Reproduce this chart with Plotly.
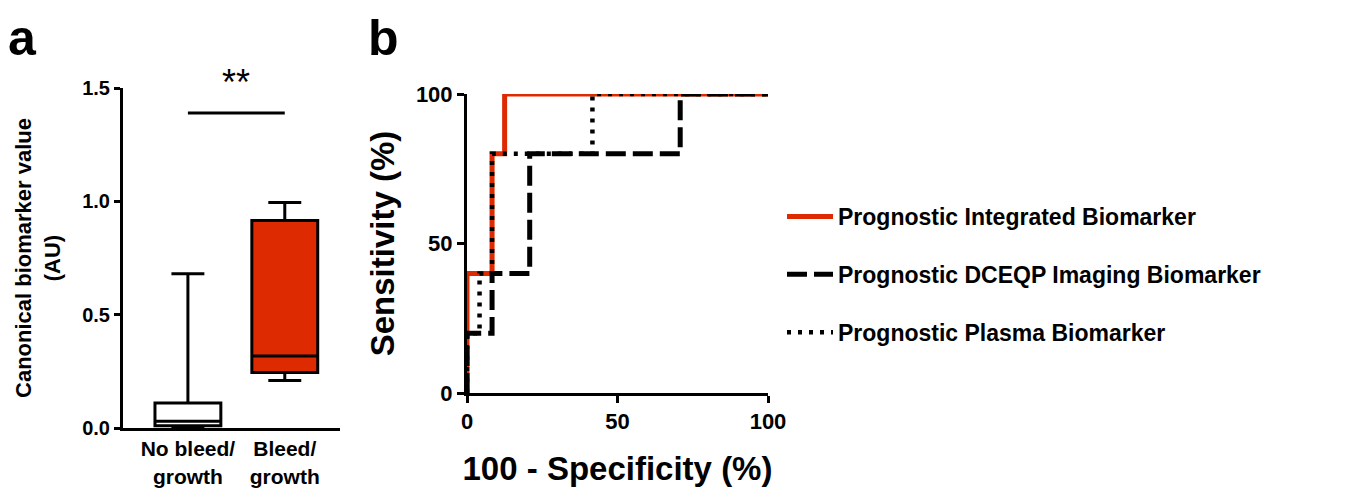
import plotly.graph_objects as go

W, H = 1371, 498
OFF = 8  # page body margin of the exported html

# ---------------- Panel a data ----------------
groups = ["No bleed/ growth", "Bleed/ growth"]
group_labels = ["No bleed/<br>growth", "Bleed/<br>growth"]
q1_vals = [0.01, 0.245]
median_vals = [0.03, 0.318]
q3_vals = [0.11, 0.915]
lower_vals = [0.0, 0.21]
upper_vals = [0.68, 0.995]
box_fills = ["white", "#DD2A00"]
sig_y = 1.39
sig_text = "**"

# ---------------- Panel b data (ROC) ----------------
roc_names = ["Prognostic Integrated Biomarker",
             "Prognostic DCEQP Imaging Biomarker",
             "Prognostic Plasma Biomarker"]
integ_fpr = [0, 0, 0, 8.33, 8.33, 12.5, 12.5, 100]
integ_tpr = [0, 20, 40, 40, 80, 80, 100, 100]
dceqp_fpr = [0, 0, 8.33, 8.33, 20.83, 20.83, 70.83, 70.83, 100]
dceqp_tpr = [0, 20, 20, 40, 40, 80, 80, 100, 100]
plasma_fpr = [0, 0, 4.17, 4.17, 8.33, 8.33, 41.67, 41.67, 100]
plasma_tpr = [0, 20, 20, 40, 40, 80, 80, 100, 100]

FONT = "Liberation Sans, Arial, Helvetica, sans-serif"
RED = "#DD2A00"

def px_x(p):
    return (p - OFF) / W

def px_y(p):
    return 1 - (p - OFF) / H

fig = go.Figure()

for i, g in enumerate(groups):
    fig.add_trace(go.Box(
        x=[g], q1=[q1_vals[i]], median=[median_vals[i]], q3=[q3_vals[i]],
        lowerfence=[lower_vals[i]], upperfence=[upper_vals[i]],
        fillcolor=box_fills[i], line=dict(color="black", width=3),
        whiskerwidth=0.5, width=0.68, boxpoints=False,
        xaxis="x", yaxis="y", showlegend=False, hoverinfo="skip"))

roc_x = [integ_fpr, dceqp_fpr, plasma_fpr]
roc_y = [integ_tpr, dceqp_tpr, plasma_tpr]
roc_lines = [dict(color=RED, width=5),
             dict(color="black", width=5, dash="20px,7px"),
             dict(color="black", width=4.5, dash="4px,7px")]
for i in range(3):
    fig.add_trace(go.Scatter(
        x=roc_x[i], y=roc_y[i], mode="lines", name=roc_names[i],
        line=roc_lines[i], xaxis="x2", yaxis="y2",
        legendgroup=f"g{i}", hoverinfo="skip"))

fig.update_layout(
    width=W, height=H,
    margin=dict(l=0, r=0, t=0, b=0, autoexpand=False),
    paper_bgcolor="white", plot_bgcolor="white",
    boxmode="overlay",
    font=dict(family=FONT, color="black"),
    xaxis=dict(domain=[px_x(123), px_x(340)], range=[-0.67, 1.57],
               showline=True, linewidth=3, linecolor="black", automargin=False,
               ticks="", tickvals=groups, ticktext=group_labels,
               tickfont=dict(family=FONT, size=21, color="black", weight="bold"),
               showgrid=False, zeroline=False, fixedrange=True),
    yaxis=dict(domain=[px_y(428), px_y(88)], range=[0, 1.5], automargin=False,
               tickvals=[0, 0.5, 1.0, 1.5], ticktext=["0.0", "0.5", "1.0", "1.5"],
               showline=True, linewidth=3, linecolor="black",
               ticks="outside", ticklen=6, tickwidth=3, tickcolor="black",
               tickfont=dict(family=FONT, size=20, color="black", weight="bold"),
               title=dict(text="Canonical biomarker value<br>(AU)",
                          font=dict(family=FONT, size=22, color="black", weight="bold"),
                          standoff=16),
               showgrid=False, zeroline=False),
    xaxis2=dict(domain=[px_x(467), px_x(768)], range=[0, 100], anchor="y2",
                automargin=False,
                tickvals=[0, 50, 100], showline=True, linewidth=3, linecolor="black",
                ticks="outside", ticklen=7, tickwidth=3, tickcolor="black",
                tickfont=dict(family=FONT, size=22, color="black", weight="bold"),
                title=dict(text="100 - Specificity (%)",
                           font=dict(family=FONT, size=33, color="black", weight="bold"),
                           standoff=24),
                showgrid=False, zeroline=False, layer="below traces"),
    yaxis2=dict(domain=[px_y(393), px_y(94)], range=[0, 100], anchor="x2",
                automargin=False,
                tickvals=[0, 50, 100], showline=True, linewidth=3, linecolor="black",
                ticks="outside", ticklen=7, tickwidth=3, tickcolor="black",
                tickfont=dict(family=FONT, size=22, color="black", weight="bold"),
                title=dict(text="Sensitivity (%)",
                           font=dict(family=FONT, size=33, color="black", weight="bold"),
                           standoff=12),
                showgrid=False, zeroline=False, layer="below traces"),
    legend=dict(x=px_x(782), y=px_y(195), xanchor="left", yanchor="top",
                font=dict(family=FONT, size=23, color="black", weight="bold"),
                tracegroupgap=25, itemwidth=46, bgcolor="rgba(0,0,0,0)"),
    shapes=[dict(type="line", xref="x", yref="y", x0=0, x1=1, y0=sig_y, y1=sig_y,
                 line=dict(color="black", width=3))],
    annotations=[
        dict(text=sig_text, xref="x", yref="y", x=0.5, y=sig_y + 0.035,
             yanchor="bottom", showarrow=False,
             font=dict(family=FONT, size=36, color="black")),
        dict(text="a", xref="paper", yref="paper", x=px_x(6), y=1,
             xanchor="left", yanchor="top", showarrow=False,
             font=dict(family=FONT, size=50, color="black", weight="bold")),
        dict(text="b", xref="paper", yref="paper", x=px_x(366), y=1,
             xanchor="left", yanchor="top", showarrow=False,
             font=dict(family=FONT, size=50, color="black", weight="bold")),
    ],
)

fig.write_html("out.html")
